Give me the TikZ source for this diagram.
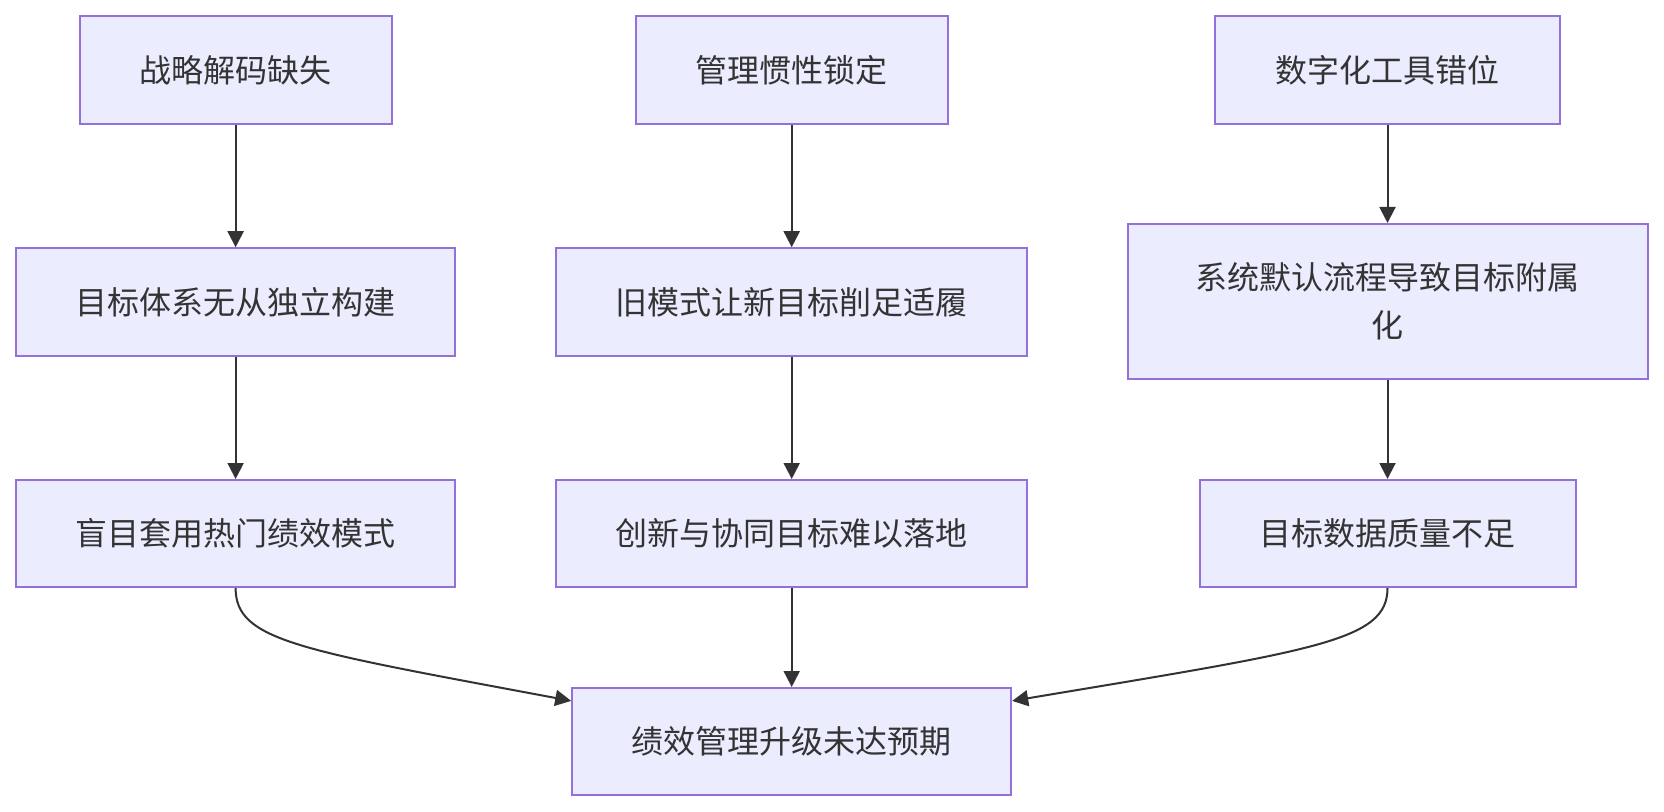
\documentclass[tikz,border=0pt]{standalone}
\usepackage{fontspec}
\setmainfont{Noto Sans CJK SC}
\usetikzlibrary{arrows.meta}
\definecolor{boxfill}{HTML}{ECECFF}
\definecolor{boxline}{HTML}{9370DB}
\definecolor{linec}{HTML}{333333}
\definecolor{textc}{HTML}{333333}
\begin{document}
\begin{tikzpicture}[x=0.5pt,y=-0.5pt,
  box/.style={draw=boxline, fill=boxfill, line width=1pt, inner sep=0pt,
    font=\fontsize{16}{24}\selectfont, text=textc, align=center},
  conn/.style={draw=linec, line width=1pt, -{Triangle[length=8pt,width=8pt]}}]
\useasboundingbox (0,0) rectangle (1664,812);
% row 1
\node[box, minimum width=156pt, minimum height=54pt] (A) at (235.6,70) {战略解码缺失};
\node[box, minimum width=156pt, minimum height=54pt] (B) at (791.7,70) {管理惯性锁定};
\node[box, minimum width=172.5pt, minimum height=54pt] (C) at (1387.5,70) {数字化工具错位};
% row 2
\node[box, minimum width=219.5pt, minimum height=53.75pt] (A2) at (235.6,302) {目标体系无从独立构建};
\node[box, minimum width=235.5pt, minimum height=53.75pt] (B2) at (791.7,302) {旧模式让新目标削足适履};
\node[box, minimum width=260pt, minimum height=77.5pt] (C2) at (1387.5,301.5) {系统默认流程导致目标附属\\化};
% row 3
\node[box, minimum width=219.5pt, minimum height=53.5pt] (A3) at (235.6,533.5) {盲目套用热门绩效模式};
\node[box, minimum width=235.5pt, minimum height=53.5pt] (B3) at (791.7,533.5) {创新与协同目标难以落地};
\node[box, minimum width=188pt, minimum height=53.5pt] (C3) at (1387.5,533.5) {目标数据质量不足};
% bottom
\node[box, minimum width=219.5pt, minimum height=53.5pt] (D) at (791.7,741.5) {绩效管理升级未达预期};
% connectors
\draw[conn] (A) -- (A2);
\draw[conn] (A2) -- (A3);
\draw[conn] (B) -- (B2);
\draw[conn] (B2) -- (B3);
\draw[conn] (C) -- (C2);
\draw[conn] (C2) -- (C3);
\draw[conn] (B3) -- (D);
\draw[conn] (A3.south) .. controls +(0,53) and +(-272,-51) .. ([yshift=20.3pt]D.west);
\draw[conn] (C3.south) .. controls +(0,53) and +(305,-51) .. ([yshift=20.3pt]D.east);
\end{tikzpicture}
\end{document}
